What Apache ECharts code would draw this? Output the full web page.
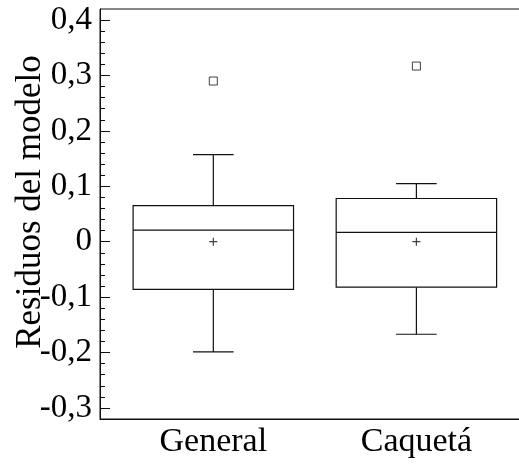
<!DOCTYPE html>
<html>
<head>
<meta charset="utf-8">
<script src="https://cdn.jsdelivr.net/npm/echarts@6/dist/echarts.min.js"></script>
<style>html,body{margin:0;padding:0;background:#fff}#c{width:519px;height:468px}</style>
</head>
<body>
<div id="c"></div>
<script>
const categories = ['General', 'Caquetá'];
const whiskerLow = [-0.199, -0.167];
const q1 = [-0.086, -0.082];
const median = [0.021, 0.017];
const q3 = [0.065, 0.078];
const whiskerHigh = [0.157, 0.105];
const means = [0.0, 0.0];
const outliers = [[0, 0.29], [1, 0.317]];
const yTicks = [-0.3, -0.2, -0.1, 0, 0.1, 0.2, 0.3, 0.4];
const yMinorTicks = [-0.28,-0.26,-0.24,-0.22,-0.18,-0.16,-0.14,-0.12,-0.08,-0.06,-0.04,-0.02,0.02,0.04,0.06,0.08,0.12,0.14,0.16,0.18,0.22,0.24,0.26,0.28,0.32,0.34,0.36,0.38];

const boxRows = categories.map((c, i) => [i + 1, whiskerLow[i], q1[i], median[i], q3[i], whiskerHigh[i]]);
const meanRows = categories.map((c, i) => [i + 1, means[i]]);
const outlierRows = outliers.map(o => [o[0] + 1, o[1]]);

const FONT = '"Liberation Serif", "DejaVu Serif", serif';
const INK = '#111';

function fmt(v) {
  const r = Math.round(v * 10) / 10;
  if (r === 0) return '0';
  return String(r).replace('.', ',');
}

const chart = echarts.init(document.getElementById('c'), null, {renderer: 'canvas'});
chart.setOption({
  animation: false,
  backgroundColor: '#fff',
  grid: {left: 100, top: 9, right: -3, bottom: 49, containLabel: false, outerBoundsMode: 'none', show: true, borderColor: INK, borderWidth: 1, backgroundColor: 'transparent'},
  xAxis: {
    type: 'value', min: 0.442, max: 2.52,
    axisLine: {show: true, onZero: false, lineStyle: {color: INK}},
    axisTick: {show: false},
    splitLine: {show: false},
    axisLabel: {
      customValues: [1, 2],
      formatter: v => categories[Math.round(v) - 1] || '',
      fontFamily: FONT, fontSize: 34, color: '#000', margin: 6
    }
  },
  yAxis: [{
    type: 'value', min: -0.32, max: 0.42,
    name: 'Residuos del modelo', nameLocation: 'middle', nameGap: 52, nameMoveOverlap: false,
    nameTextStyle: {fontFamily: FONT, fontSize: 35, color: '#000', padding: [0, 0, 0, 24]},
    axisLine: {show: true, onZero: false, lineStyle: {color: INK}},
    axisTick: {show: true, inside: true, length: 10, customValues: yTicks, lineStyle: {color: INK}},
    axisLabel: {customValues: yTicks, formatter: fmt, fontFamily: FONT, fontSize: 33, color: '#000', margin: 8},
    splitLine: {show: false}
  }, {
    type: 'value', min: -0.32, max: 0.42, position: 'left',
    axisLine: {show: false},
    axisTick: {show: true, inside: true, length: 5, customValues: yMinorTicks, lineStyle: {color: INK}},
    axisLabel: {show: false},
    splitLine: {show: false}
  }],
  series: [{
    type: 'custom',
    name: 'box',
    data: boxRows,
    encode: {x: 0, y: [1, 2, 3, 4, 5]},
    renderItem: function (params, api) {
      const x = api.value(0);
      const pLow = api.coord([x, api.value(1)]);
      const pQ1 = api.coord([x, api.value(2)]);
      const pMed = api.coord([x, api.value(3)]);
      const pQ3 = api.coord([x, api.value(4)]);
      const pHigh = api.coord([x, api.value(5)]);
      const half = api.size([0.79, 0])[0] / 2;
      const cap = api.size([0.2, 0])[0] / 2;
      const cx = pQ1[0];
      const st = {stroke: INK, lineWidth: 1.2, fill: null};
      return {
        type: 'group',
        children: [
          {type: 'rect', shape: {x: cx - half, y: pQ3[1], width: 2 * half, height: pQ1[1] - pQ3[1]}, style: {stroke: INK, lineWidth: 1.2, fill: 'transparent'}},
          {type: 'line', shape: {x1: cx - half, y1: pMed[1], x2: cx + half, y2: pMed[1]}, style: st},
          {type: 'line', shape: {x1: cx, y1: pQ3[1], x2: cx, y2: pHigh[1]}, style: st},
          {type: 'line', shape: {x1: cx, y1: pQ1[1], x2: cx, y2: pLow[1]}, style: st},
          {type: 'line', shape: {x1: cx - cap, y1: pHigh[1], x2: cx + cap, y2: pHigh[1]}, style: st},
          {type: 'line', shape: {x1: cx - cap, y1: pLow[1], x2: cx + cap, y2: pLow[1]}, style: st}
        ]
      };
    }
  }, {
    type: 'scatter',
    name: 'mean',
    data: meanRows,
    symbol: 'path://M4,0L4,8M0,4L8,4',
    symbolSize: 8,
    itemStyle: {color: 'transparent', borderColor: INK, borderWidth: 1.2}
  }, {
    type: 'scatter',
    name: 'outliers',
    data: outlierRows,
    symbol: 'rect',
    symbolSize: 8,
    itemStyle: {color: '#fff', borderColor: INK, borderWidth: 1}
  }]
});
</script>
</body>
</html>
